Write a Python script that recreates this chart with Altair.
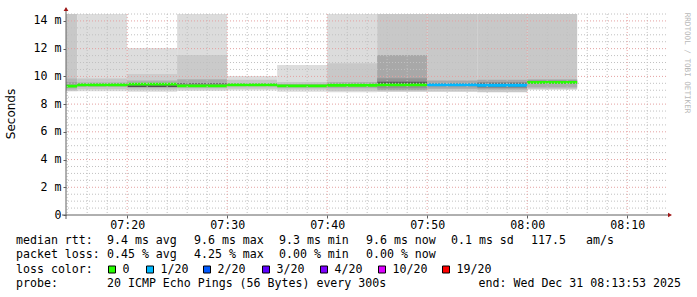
import altair as alt
import pandas as pd

# ---------------- data ----------------
step_end = ["07:15", "07:20", "07:25", "07:30", "07:35", "07:40",
            "07:45", "07:50", "07:55", "08:00", "08:05"]
median_ms = [9.29, 9.39, 9.44, 9.32, 9.39, 9.31, 9.36, 9.38, 9.39, 9.36, 9.57]
loss_count = [0, 0, 0, 0, 0, 0, 0, 0, 1, 1, 0]

# smoke bands (step index, low ms, high ms, grey shade)
smoke_step = [0, 0, 0,
              1, 1, 1,
              2, 2, 2, 2,
              3, 3, 3, 3,
              4, 4, 4,
              5, 5, 5,
              6, 6, 6,
              7, 7, 7, 7,
              8, 8, 8,
              9, 9, 9,
              10, 10, 10]
smoke_lo = [8.93, 9.05, 9.2,
            8.92, 9.07, 9.25,
            8.9, 9.0, 9.15, 9.24,
            8.95, 9.05, 9.2, 9.42,
            8.98, 9.1, 9.28,
            8.9, 9.05, 9.2,
            8.85, 8.95, 9.15,
            8.9, 9.0, 9.15, 9.45,
            8.9, 9.1, 9.28,
            8.85, 9.05, 9.2,
            9.05, 9.2, 9.45]
smoke_hi = [14.6, 9.85, 9.6,
            14.6, 9.85, 9.55,
            12.05, 10.17, 9.7, 9.36,
            14.6, 11.54, 9.8, 9.5,
            10.03, 9.75, 9.5,
            10.82, 9.6, 9.45,
            14.6, 10.94, 9.6,
            14.6, 11.54, 9.86, 9.62,
            14.6, 9.7, 9.5,
            14.6, 9.75, 9.55,
            14.6, 9.8, 9.7]
smoke_shade = ["#c8c8c8", "#b4b4b4", "#a0a0a0",
               "#dddddd", "#c6c6c6", "#a8a8a8",
               "#dddddd", "#cccccc", "#b0b0b0", "#505050",
               "#dcdcdc", "#cacaca", "#acacac", "#606060",
               "#dddddd", "#c6c6c6", "#a8a8a8",
               "#dddddd", "#c6c6c6", "#a8a8a8",
               "#dcdcdc", "#c8c8c8", "#acacac",
               "#c8c8c8", "#a8a8a8", "#939393", "#5a5a5a",
               "#c8c8c8", "#a8a8a8", "#8c8c8c",
               "#c8c8c8", "#a8a8a8", "#707070",
               "#c8c8c8", "#acacac", "#8c8c8c"]

loss_levels = [0, 1, 2, 3, 4, 10, 19]
loss_labels = ["0", "1/20", "2/20", "3/20", "4/20", "10/20", "19/20"]
loss_colors = ["#26ff00", "#00b8ff", "#0059ff", "#5e00ff", "#7e00ff", "#dd00ff", "#ff0000"]

x_tick_values = [20, 30, 40, 50, 60, 70]
x_tick_labels = ["07:20", "07:30", "07:40", "07:50", "08:00", "08:10"]
y_tick_values = [0, 2, 4, 6, 8, 10, 12, 14]

x_start, x_end = 13 + 53 / 60, 73 + 53 / 60   # 07:13:53 .. 08:13:53 (minutes after 07:00)
y_max = 14.5

rtt_line = ["median rtt:", "9.4 ms avg", "9.6 ms max", "9.3 ms min", "9.6 ms now",
            "0.1 ms sd", "117.5", "am/s"]
loss_line = ["packet loss:", "0.45 % avg", "4.25 % max", "0.00 % min", "0.00 % now"]
probe_text = "20 ICMP Echo Pings (56 Bytes) every 300s"
end_text = "end: Wed Dec 31 08:13:53 2025"

# ---------------- helpers ----------------
def to_min(s):
    h, m = s.split(":")
    return (int(h) - 7) * 60 + int(m)

ends = [to_min(s) for s in step_end]
steps = pd.DataFrame({
    "x0": [e - 5 for e in ends],
    "x1": ends,
    "median": median_ms,
    "color": [loss_colors[loss_levels.index(l)] for l in loss_count],
})
smoke = pd.DataFrame({
    "x0": [ends[i] - 5 for i in smoke_step],
    "x1": [ends[i] for i in smoke_step],
    "lo": smoke_lo, "hi": smoke_hi, "shade": smoke_shade,
})

W, H = 600, 201
PL, PT = 66, 14
MONO = "DejaVu Sans Mono"
FS = 11.6

xs = alt.Scale(domain=[x_start, x_end], nice=False, zero=False)
ys = alt.Scale(domain=[0, y_max], nice=False, zero=True)

label_arr = "[" + ",".join("'%s'" % t for t in x_tick_labels) + "]"
x_axis = alt.Axis(values=x_tick_values, grid=False, domain=False, ticks=True,
                  tickSize=3, tickColor="#606060", labelPadding=1,
                  labelOverlap=False, labelFlush=False,
                  labelExpr=label_arr + "[indexof(" + str(x_tick_values) + ", datum.value)]",
                  labelFont=MONO, labelFontSize=FS, labelColor="#000000", title=None)
y_axis = alt.Axis(values=y_tick_values, grid=False, domain=False, ticks=True,
                  tickSize=3, tickColor="#606060", labelPadding=2,
                  labelOverlap=False, labelFlush=False,
                  labelExpr="datum.value == 0 ? '0\u00a0\u00a0' : datum.value + ' m'",
                  labelFont=MONO, labelFontSize=FS, labelColor="#000000", title=None)

def X(field):
    return alt.X(field, scale=xs, axis=x_axis)

def Y(field):
    return alt.Y(field, scale=ys, axis=y_axis)

smoke_layer = alt.Chart(smoke).mark_rect(clip=True).encode(
    x=X("x0:Q"), x2="x1:Q",
    y=Y("lo:Q"), y2="hi:Q",
    color=alt.Color("shade:N", scale=None),
)

median_layer = alt.Chart(steps).mark_rule(strokeWidth=2.8, clip=True).encode(
    x=X("x0:Q"), x2="x1:Q",
    y=Y("median:Q"),
    color=alt.Color("color:N", scale=None),
)

minor_x = [m for m in range(14, 74, 2) if m % 10 != 0]
major_x = [m for m in range(20, 74, 10)]
minor_y = [v / 2 for v in range(1, 30) if v % 4 != 0]
major_y = [v for v in range(2, 15, 2)]

grid_minor_v = alt.Chart(pd.DataFrame({"x": minor_x})).mark_rule(
    color="#c0c0c0", strokeDash=[1, 2], strokeWidth=1).encode(x=X("x:Q"))
grid_minor_h = alt.Chart(pd.DataFrame({"y": minor_y})).mark_rule(
    color="#c0c0c0", strokeDash=[1, 2], strokeWidth=1).encode(y=Y("y:Q"))
grid_major_v = alt.Chart(pd.DataFrame({"x": major_x})).mark_rule(
    color="#e4a0a0", strokeDash=[1, 2], strokeWidth=1).encode(x=X("x:Q"))
grid_major_h = alt.Chart(pd.DataFrame({"y": major_y})).mark_rule(
    color="#e4a0a0", strokeDash=[1, 2], strokeWidth=1).encode(y=Y("y:Q"))

# axis lines with arrows
axis_y_line = alt.Chart(pd.DataFrame({"a": [0]})).mark_rule(color="#606060").encode(
    x=alt.value(0), y=alt.value(-6), y2=alt.value(H + 4))
axis_x_line = alt.Chart(pd.DataFrame({"a": [0]})).mark_rule(color="#606060").encode(
    x=alt.value(-4), x2=alt.value(W + 4), y=alt.value(H))
arrow_up = alt.Chart(pd.DataFrame({"a": [0]})).mark_point(
    shape="triangle-up", filled=True, color="#a01818", size=22, opacity=1).encode(
    x=alt.value(0), y=alt.value(-5))
arrow_right = alt.Chart(pd.DataFrame({"a": [0]})).mark_point(
    shape="triangle-right", filled=True, color="#a01818", size=22, opacity=1).encode(
    x=alt.value(W + 4), y=alt.value(H))

# texts
seconds_title = alt.Chart(pd.DataFrame({"t": ["Seconds"]})).mark_text(
    angle=270, font="DejaVu Sans", fontSize=12, color="#000000", align="center",
    baseline="middle").encode(x=alt.value(11 - PL), y=alt.value(114 - PT), text="t:N")
rrd_credit = alt.Chart(pd.DataFrame({"t": ["RRDTOOL / TOBI OETIKER"]})).mark_text(
    angle=90, font=MONO, fontSize=7.6, color="#b8b8b8", align="center",
    baseline="middle").encode(x=alt.value(686.5 - PL), y=alt.value(63 - PT), text="t:N")

legend_px = [16, 107, 194, 279, 366, 451, 531, 586]
row_y = [241, 255, 269.5, 283.5]
leg_rows = []
for i, t in enumerate(rtt_line):
    leg_rows.append({"px": legend_px[i] - PL, "py": row_y[0] - PT, "t": t})
for i, t in enumerate(loss_line):
    leg_rows.append({"px": legend_px[i] - PL, "py": row_y[1] - PT, "t": t})
leg_rows.append({"px": 16 - PL, "py": row_y[2] - PT, "t": "loss color:"})
leg_rows.append({"px": 16 - PL, "py": row_y[3] - PT, "t": "probe:"})
leg_rows.append({"px": 107 - PL, "py": row_y[3] - PT, "t": probe_text})
sq_left = [108, 146, 203, 262, 320, 378, 442]
for i, lab in enumerate(loss_labels):
    leg_rows.append({"px": sq_left[i] + 14.5 - PL, "py": row_y[2] - PT, "t": lab})
leg_df = pd.DataFrame(leg_rows)
legend_text = alt.Chart(leg_df).mark_text(
    align="left", baseline="middle", font=MONO, fontSize=FS, color="#000000").encode(
    x=alt.X("px:Q", scale=None), y=alt.Y("py:Q", scale=None), text="t:N")
end_label = alt.Chart(pd.DataFrame({"t": [end_text]})).mark_text(
    align="right", baseline="middle", font=MONO, fontSize=FS, color="#000000").encode(
    x=alt.value(681 - PL), y=alt.value(row_y[3] - PT), text="t:N")

sq_df = pd.DataFrame({"px": [s + 4 - PL for s in sq_left], "py": [row_y[2] - PT] * 7,
                      "c": loss_colors})
legend_squares = alt.Chart(sq_df).mark_square(
    size=49, stroke="#000000", strokeWidth=1, opacity=1).encode(
    x=alt.X("px:Q", scale=None), y=alt.Y("py:Q", scale=None),
    fill=alt.Fill("c:N", scale=None))

chart = alt.layer(
    smoke_layer, median_layer,
    grid_minor_v, grid_minor_h, grid_major_v, grid_major_h,
    axis_y_line, axis_x_line, arrow_up, arrow_right,
    seconds_title, rrd_credit, legend_text, end_label, legend_squares,
).properties(
    width=W, height=H,
    autosize=alt.AutoSizeParams(type="none"),
    padding={"left": PL, "top": PT, "right": 697 - PL - W, "bottom": 297 - PT - H},
    background="#ffffff",
).configure_view(stroke=None)

chart.save("out.html", embed_options={"renderer": "svg", "actions": False})
